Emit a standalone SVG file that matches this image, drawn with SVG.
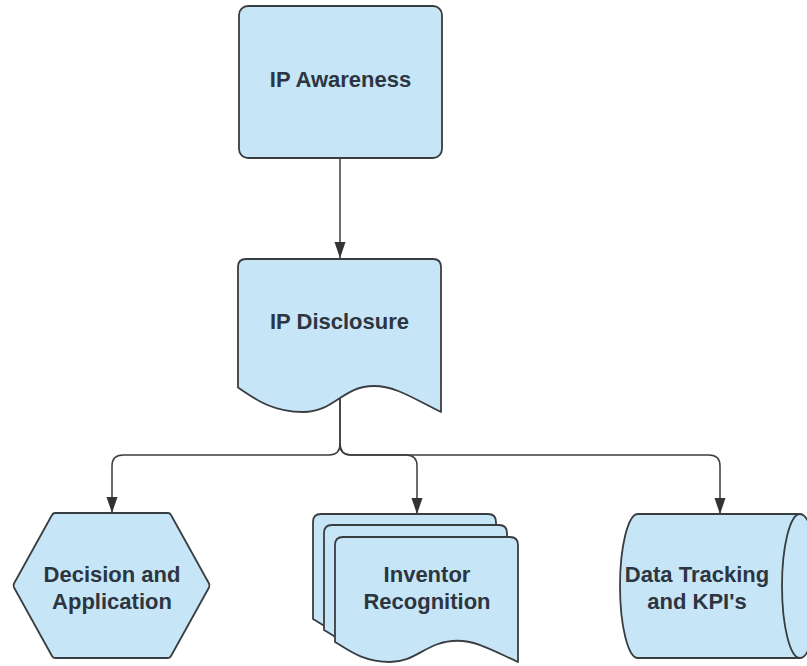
<svg xmlns="http://www.w3.org/2000/svg" xmlns:xlink="http://www.w3.org/1999/xlink" width="807" height="666" viewBox="0 0 807 666">
<style>
.shape{fill:#c6e5f7;stroke:#3a3d40;stroke-width:1.8;stroke-linejoin:round}
.lbl{font-family:"Liberation Sans",Arial,sans-serif;font-weight:bold;font-size:22px;fill:#2c3540;text-anchor:middle}
.conn{fill:none;stroke:#3a3d40;stroke-width:1.5}
</style>
<defs>
<marker id="arrow" viewBox="0 0 16 12" refX="16" refY="6" markerWidth="16" markerHeight="12" markerUnits="userSpaceOnUse" orient="auto">
<path d="M0,0.5 L16,6 L0,11.5 Z" fill="#333"/>
</marker>
<path id="doc" d="M8,0 H175 Q183,0 183,8 V125 C155.6,112.5 140.9,103.75 122.6,103.75 C91.5,103.75 82.4,125 54.9,125 C27.5,125 12.8,112.5 0,105 V8 Q0,0 8,0 Z"/>
</defs>
<rect width="807" height="666" fill="#ffffff"/>
<g id="connectors">
<path class="conn" d="M340,158 V258" marker-end="url(#arrow)"/>
<path class="conn" d="M340,398 V444 Q340,455 329,455 H123 Q112,455 112,466 V513" marker-end="url(#arrow)"/>
<path class="conn" d="M340,398 V444 Q340,455 351,455 H406 Q417,455 417,466 V514" marker-end="url(#arrow)"/>
<path class="conn" d="M340,444 Q340,455 351,455 H709 Q720,455 720,466 V514" marker-end="url(#arrow)"/>
</g>
<g id="ip-awareness">
<rect class="shape" x="239" y="6" width="203" height="152" rx="9"/>
<text class="lbl" x="340.5" y="87">IP Awareness</text>
</g>
<g id="ip-disclosure">
<path class="shape" d="M246,259 H433 Q441,259 441,267 V412 C410.5,396.7 394.3,386 374,386 C342,386 335,412 303,412 C270,412 252.2,396.7 238,387.5 V267 Q238,259 246,259 Z"/>
<text class="lbl" x="339.5" y="329">IP Disclosure</text>
</g>
<g id="decision-application">
<path class="shape" d="M55,513 H168 Q170,513 171,515 L209,583.5 Q210,585.5 209,587.5 L171,656 Q170,658 168,658 H55 Q53,658 52,656 L14,587.5 Q13,585.5 14,583.5 L52,515 Q53,513 55,513 Z"/>
<text class="lbl" x="112" y="582">Decision and</text>
<text class="lbl" x="112" y="609">Application</text>
</g>
<g id="inventor-recognition">
<use xlink:href="#doc" class="shape" transform="translate(313,514)"/>
<use xlink:href="#doc" class="shape" transform="translate(324,525)"/>
<use xlink:href="#doc" class="shape" transform="translate(335,537)"/>
<text class="lbl" x="427" y="582">Inventor</text>
<text class="lbl" x="427" y="609">Recognition</text>
</g>
<g id="data-tracking">
<path class="shape" d="M638,514 H800 A18,72 0 0 1 800,658 H638 A18,72 0 0 1 638,514 Z"/>
<path class="shape" d="M800,514 A18,72 0 0 0 800,658"/>
<text class="lbl" x="697" y="582">Data Tracking</text>
<text class="lbl" x="697" y="609">and KPI's</text>
</g>
</svg>
